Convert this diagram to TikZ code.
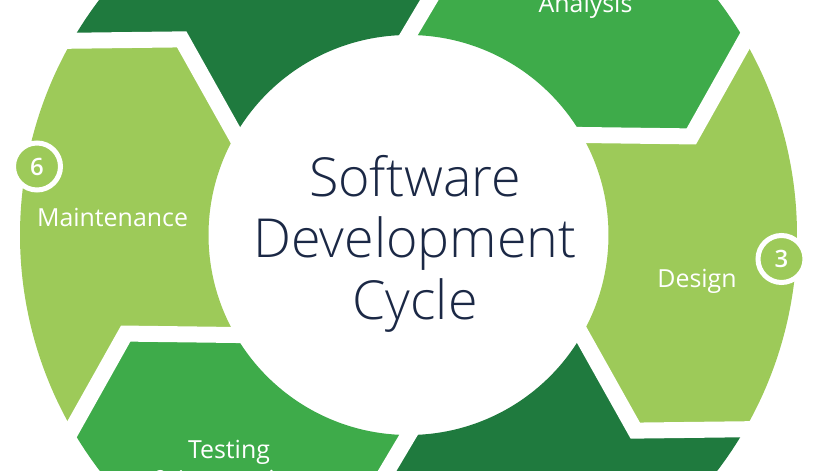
\documentclass[tikz,border=0pt]{standalone}
\usepackage{fontspec}
\setmainfont{Open Sans}
\IfFontExistsTF{Open Sans Light}
  {\newfontfamily\titlefont{Open Sans Light}}
  {\newfontfamily\titlefont{Open Sans}}
\IfFontExistsTF{Open Sans Semibold}
  {\newfontfamily\digitfont{Open Sans Semibold}}
  {\newfontfamily\digitfont{Open Sans}[FakeBold=1.2]}
\usetikzlibrary{calc}
\definecolor{gdark}{RGB}{31,122,62}
\definecolor{gmid}{RGB}{62,171,74}
\definecolor{glight}{RGB}{157,202,89}
\definecolor{navy}{RGB}{27,40,69}

\begin{document}
\begin{tikzpicture}[x=1bp,y=1bp,
  stagelabel/.style={text=white, font=\fontsize{25}{30}\selectfont, inner sep=0pt, anchor=base},
  headline/.style={text=navy, font=\titlefont\fontsize{54}{60}\selectfont, inner sep=0pt, anchor=base},
  badge/.style={circle, draw=white, line width=5bp, minimum size=47bp, inner sep=0pt,
                text=white, font=\digitfont\fontsize{24}{24}\selectfont},
  gapline/.style={draw=white, line width=16bp, line join=miter, line cap=butt}]
% ring radii and the apex of each chevron joint
\def\ri{200}
\def\ro{388.5}
\def\ra{299.5}
\def\da{10.78}
\useasboundingbox (-408.5,-236) rectangle (409.5,235);
\clip (-408.5,-236) rectangle (409.5,235);

% six chevron segments of the ring
\foreach \a/\c in {120/gdark, 60/gmid, 0/glight, -60/gdark, -120/gmid, 180/glight}{
  \fill[\c] (\a+30:\ri) -- (\a+30-\da:\ra) -- (\a+30:\ro)
    arc[start angle=\a+30, end angle=\a-30, radius=\ro]
    -- (\a-30-\da:\ra) -- (\a-30:\ri)
    arc[start angle=\a-30, end angle=\a+30, radius=\ri] -- cycle;
}

% white gaps between the segments
\foreach \p in {150,90,30,-30,-90,-150}{
  \coordinate (J) at (\p-\da:\ra);
  \draw[gapline] ($(J)!1.5!(\p:\ri)$) -- (J) -- ($(J)!1.5!(\p:\ro)$);
}

% step numbers
\node[badge, fill=glight] (b6) at (-371.5,68.5) {6};
\node[badge, fill=glight] (b3) at (373,-24) {3};

% stage names
\node[stagelabel] (ana) at (177,222) {Analysis};
\node[stagelabel] (mnt) at (-296,8) {Maintenance};
\node[stagelabel] (des) at (288.5,-53) {Design};
\node[stagelabel] (tst) at (-179.5,-224) {Testing};
\node[stagelabel] (tst2) at (-179.5,-254) {\& Integration};

% title in the middle
\node[headline] (t1) at (6.5,38) {Software};
\node[headline] (t2) at (6.5,-23) {Development};
\node[headline] (t3) at (6.5,-85) {Cycle};
\end{tikzpicture}
\end{document}
